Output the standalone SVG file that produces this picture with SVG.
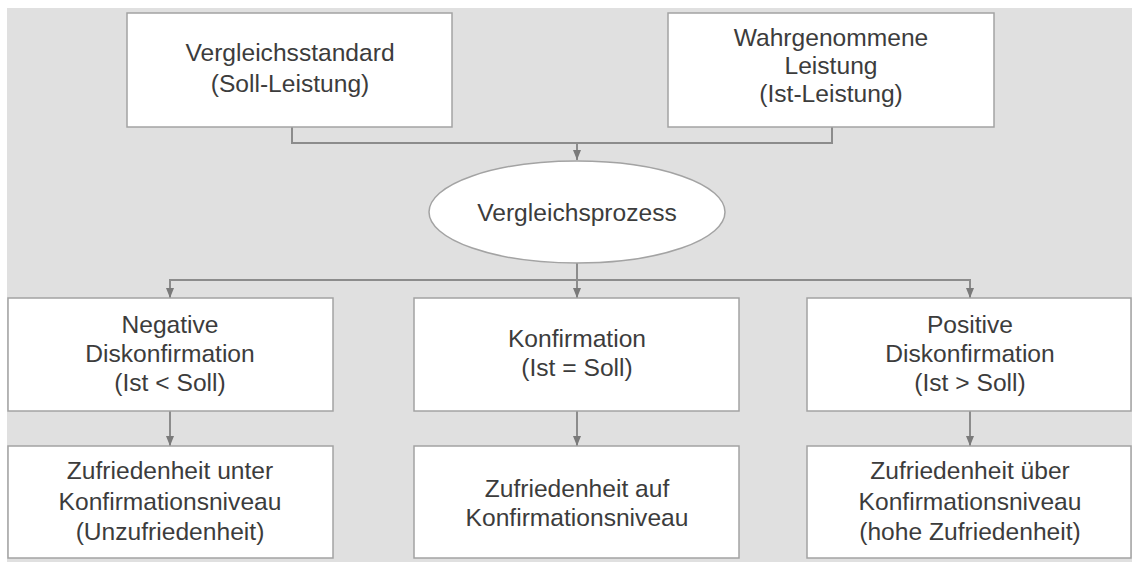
<svg xmlns="http://www.w3.org/2000/svg" width="1132" height="562" viewBox="0 0 1132 562">
  <style>
    .box { fill: #ffffff; stroke: #a3a3a3; stroke-width: 1.5; }
    .conn { fill: none; stroke: #8c8c8c; stroke-width: 2; }
    .t { font-family: "Liberation Sans", Arial, sans-serif; font-size: 24.6px; fill: #3c3c3c; text-anchor: middle; }
  </style>
  <defs>
    <marker id="arr" markerUnits="userSpaceOnUse" markerWidth="10" markerHeight="10" viewBox="0 0 10 10" refX="10" refY="5" orient="auto">
      <path d="M0,1 L10,5 L0,9 Z" fill="#7a7a7a"/>
    </marker>
  </defs>
  <rect x="0" y="0" width="1132" height="562" fill="#ffffff"/>
  <rect x="7" y="8" width="1125" height="554" fill="#e0e0e0"/>

  <g id="connectors">
    <polyline class="conn" points="292,127 292,143 832,143 832,127"/>
    <line class="conn" x1="577" y1="143" x2="577" y2="160" marker-end="url(#arr)"/>
    <line class="conn" x1="577" y1="263" x2="577" y2="280"/>
    <line class="conn" x1="170" y1="280" x2="970" y2="280"/>
    <line class="conn" x1="170" y1="279" x2="170" y2="298" marker-end="url(#arr)"/>
    <line class="conn" x1="577" y1="279" x2="577" y2="298" marker-end="url(#arr)"/>
    <line class="conn" x1="970" y1="279" x2="970" y2="298" marker-end="url(#arr)"/>
    <line class="conn" x1="170" y1="411" x2="170" y2="446" marker-end="url(#arr)"/>
    <line class="conn" x1="577" y1="411" x2="577" y2="446" marker-end="url(#arr)"/>
    <line class="conn" x1="970" y1="411" x2="970" y2="446" marker-end="url(#arr)"/>
  </g>

  <g id="soll">
    <rect class="box" x="127" y="13" width="325" height="114"/>
    <text class="t" x="290" y="61">Vergleichsstandard</text>
    <text class="t" x="290" y="92">(Soll-Leistung)</text>
  </g>
  <g id="ist">
    <rect class="box" x="668" y="13" width="326" height="114"/>
    <text class="t" x="831" y="46">Wahrgenommene</text>
    <text class="t" x="831" y="74">Leistung</text>
    <text class="t" x="831" y="102">(Ist-Leistung)</text>
  </g>
  <g id="prozess">
    <ellipse class="box" cx="577" cy="212" rx="148" ry="51"/>
    <text class="t" x="577" y="221">Vergleichsprozess</text>
  </g>
  <g id="negativ">
    <rect class="box" x="8" y="298" width="325" height="113"/>
    <text class="t" x="170" y="333">Negative</text>
    <text class="t" x="170" y="362">Diskonfirmation</text>
    <text class="t" x="170" y="391">(Ist &lt; Soll)</text>
  </g>
  <g id="konfirmation">
    <rect class="box" x="414" y="298" width="325" height="113"/>
    <text class="t" x="577" y="347">Konfirmation</text>
    <text class="t" x="577" y="376">(Ist = Soll)</text>
  </g>
  <g id="positiv">
    <rect class="box" x="807" y="298" width="324" height="113"/>
    <text class="t" x="970" y="333">Positive</text>
    <text class="t" x="970" y="362">Diskonfirmation</text>
    <text class="t" x="970" y="391">(Ist &gt; Soll)</text>
  </g>
  <g id="unzufrieden">
    <rect class="box" x="8" y="446" width="325" height="112"/>
    <text class="t" x="170" y="479">Zufriedenheit unter</text>
    <text class="t" x="170" y="510">Konfirmationsniveau</text>
    <text class="t" x="170" y="540">(Unzufriedenheit)</text>
  </g>
  <g id="zufrieden">
    <rect class="box" x="414" y="446" width="325" height="112"/>
    <text class="t" x="577" y="497">Zufriedenheit auf</text>
    <text class="t" x="577" y="526">Konfirmationsniveau</text>
  </g>
  <g id="hochzufrieden">
    <rect class="box" x="807" y="446" width="324" height="112"/>
    <text class="t" x="970" y="479">Zufriedenheit über</text>
    <text class="t" x="970" y="510">Konfirmationsniveau</text>
    <text class="t" x="970" y="540">(hohe Zufriedenheit)</text>
  </g>
</svg>
